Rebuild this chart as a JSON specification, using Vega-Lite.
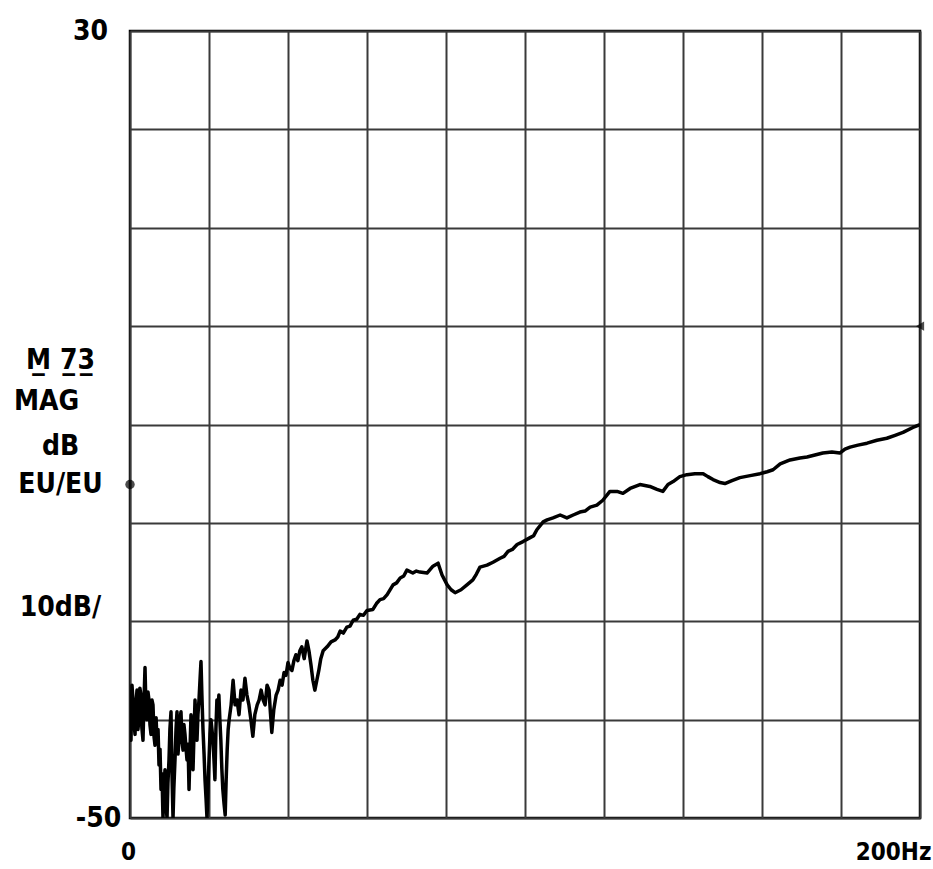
{
  "$schema": "https://vega.github.io/schema/vega-lite/v6.json",
  "width": 790,
  "height": 787,
  "autosize": "none",
  "padding": {"left": 130, "top": 31, "right": 13, "bottom": 51},
  "background": "white",
  "config": {
    "view": {"stroke": "black", "strokeWidth": 2.5},
    "font": "DejaVu Sans Condensed"
  },
  "datasets": {
    "trace": [
      {"f": 0, "m": -37.0}, {"f": 0.13, "m": -40.5}, {"f": 0.25, "m": -42.1}, {"f": 0.5, "m": -36.5},
      {"f": 0.76, "m": -38.0}, {"f": 1.0, "m": -40.2}, {"f": 1.27, "m": -41.5}, {"f": 1.5, "m": -38.5},
      {"f": 1.77, "m": -37.0}, {"f": 2.0, "m": -41.0}, {"f": 2.28, "m": -40.0}, {"f": 2.5, "m": -36.8},
      {"f": 2.78, "m": -37.5}, {"f": 3.0, "m": -40.8}, {"f": 3.29, "m": -42.1}, {"f": 3.55, "m": -38.0},
      {"f": 3.8, "m": -34.7}, {"f": 4.05, "m": -39.0}, {"f": 4.3, "m": -40.0}, {"f": 4.55, "m": -37.2},
      {"f": 4.81, "m": -38.0}, {"f": 5.05, "m": -40.5}, {"f": 5.32, "m": -41.5}, {"f": 5.55, "m": -38.0},
      {"f": 5.82, "m": -38.5}, {"f": 6.1, "m": -41.8}, {"f": 6.33, "m": -42.6}, {"f": 6.6, "m": -39.8},
      {"f": 6.84, "m": -42.1}, {"f": 7.1, "m": -41.0}, {"f": 7.34, "m": -44.6}, {"f": 7.6, "m": -43.0},
      {"f": 7.85, "m": -47.1}, {"f": 8.1, "m": -45.5}, {"f": 8.35, "m": -50}, {"f": 8.6, "m": -47.0},
      {"f": 8.86, "m": -45.1}, {"f": 9.1, "m": -48.5}, {"f": 9.37, "m": -50}, {"f": 9.6, "m": -46.5},
      {"f": 9.87, "m": -44.1}, {"f": 10.1, "m": -41.0}, {"f": 10.38, "m": -39.2}, {"f": 10.6, "m": -45.0},
      {"f": 10.89, "m": -50}, {"f": 11.1, "m": -47.0}, {"f": 11.39, "m": -44.1}, {"f": 11.65, "m": -41.0},
      {"f": 11.9, "m": -39.2}, {"f": 12.15, "m": -43.5}, {"f": 12.41, "m": -42.1}, {"f": 12.65, "m": -40.0},
      {"f": 12.91, "m": -39.2}, {"f": 13.15, "m": -42.0}, {"f": 13.42, "m": -43.1}, {"f": 13.65, "m": -40.5},
      {"f": 13.92, "m": -41.5}, {"f": 14.2, "m": -43.0}, {"f": 14.43, "m": -44.1}, {"f": 14.7, "m": -42.5},
      {"f": 14.94, "m": -47.1}, {"f": 15.2, "m": -43.0}, {"f": 15.44, "m": -39.5}, {"f": 15.7, "m": -42.0},
      {"f": 15.95, "m": -45.1}, {"f": 16.2, "m": -41.5}, {"f": 16.46, "m": -38.0}, {"f": 16.7, "m": -40.5},
      {"f": 16.96, "m": -42.1}, {"f": 17.2, "m": -39.5}, {"f": 17.47, "m": -38.0}, {"f": 17.72, "m": -36.0},
      {"f": 17.97, "m": -34.1}, {"f": 18.2, "m": -37.5}, {"f": 18.48, "m": -41.0}, {"f": 18.75, "m": -43.5},
      {"f": 18.99, "m": -46.1}, {"f": 19.25, "m": -48.0}, {"f": 19.49, "m": -50}, {"f": 19.75, "m": -47.0},
      {"f": 20.0, "m": -44.1}, {"f": 20.25, "m": -41.5}, {"f": 20.5, "m": -40.0}, {"f": 20.75, "m": -41.0},
      {"f": 21.0, "m": -42.1}, {"f": 21.25, "m": -44.0}, {"f": 21.5, "m": -46.1}, {"f": 21.75, "m": -41.0},
      {"f": 22.0, "m": -38.0}, {"f": 22.25, "m": -39.5}, {"f": 22.5, "m": -37.5}, {"f": 22.75, "m": -40.0},
      {"f": 23.0, "m": -42.1}, {"f": 23.25, "m": -45.0}, {"f": 23.5, "m": -47.1}, {"f": 23.8, "m": -48.5},
      {"f": 24.1, "m": -49.7}, {"f": 24.35, "m": -46.0}, {"f": 24.6, "m": -43.1}, {"f": 24.85, "m": -41.0},
      {"f": 25.1, "m": -40.0}, {"f": 25.6, "m": -38.5}, {"f": 26.1, "m": -36.0}, {"f": 26.6, "m": -38.5},
      {"f": 27.1, "m": -38.0}, {"f": 27.6, "m": -39.5}, {"f": 28.1, "m": -37.0}, {"f": 28.6, "m": -38.0},
      {"f": 29.1, "m": -35.8}, {"f": 29.6, "m": -37.5}, {"f": 30.1, "m": -38.5}, {"f": 30.6, "m": -40.0},
      {"f": 31.1, "m": -41.7}, {"f": 31.6, "m": -39.5}, {"f": 32.2, "m": -38.5}, {"f": 32.7, "m": -38.0},
      {"f": 33.2, "m": -37.0}, {"f": 33.7, "m": -38.0}, {"f": 34.2, "m": -38.5}, {"f": 34.7, "m": -36.5},
      {"f": 35.2, "m": -37.0}, {"f": 35.5, "m": -39.0}, {"f": 35.9, "m": -41.3}, {"f": 36.4, "m": -39.0},
      {"f": 37.0, "m": -37.5}, {"f": 37.5, "m": -37.0}, {"f": 38.0, "m": -36.0}, {"f": 38.5, "m": -36.5},
      {"f": 39.0, "m": -35.2}, {"f": 39.5, "m": -35.5}, {"f": 40.0, "m": -34.2}, {"f": 40.5, "m": -34.8},
      {"f": 41.0, "m": -35.0}, {"f": 41.5, "m": -34.0}, {"f": 42.0, "m": -33.4}, {"f": 42.5, "m": -34.0},
      {"f": 43.0, "m": -33.0}, {"f": 43.5, "m": -32.6}, {"f": 44.1, "m": -33.8}, {"f": 44.8, "m": -32.0},
      {"f": 45.3, "m": -33.0}, {"f": 45.8, "m": -34.4}, {"f": 46.3, "m": -36.0}, {"f": 46.8, "m": -37.0},
      {"f": 47.3, "m": -36.0}, {"f": 47.8, "m": -35.0}, {"f": 48.3, "m": -33.8}, {"f": 48.9, "m": -33.0},
      {"f": 49.9, "m": -32.6}, {"f": 50.9, "m": -32.1}, {"f": 51.9, "m": -31.9}, {"f": 52.6, "m": -31.6},
      {"f": 53.2, "m": -31.0}, {"f": 54.0, "m": -31.2}, {"f": 54.9, "m": -30.6}, {"f": 55.7, "m": -30.5},
      {"f": 56.5, "m": -29.9}, {"f": 57.4, "m": -29.8}, {"f": 58.2, "m": -29.3}, {"f": 59.1, "m": -29.4},
      {"f": 60.0, "m": -28.9}, {"f": 61.5, "m": -28.8}, {"f": 62.4, "m": -28.2}, {"f": 63.3, "m": -27.8},
      {"f": 64.2, "m": -27.7}, {"f": 65.1, "m": -27.3}, {"f": 66.6, "m": -26.3}, {"f": 67.5, "m": -26.1},
      {"f": 68.4, "m": -25.6}, {"f": 69.3, "m": -25.4}, {"f": 70.1, "m": -24.8}, {"f": 71.6, "m": -25.1},
      {"f": 72.5, "m": -24.9}, {"f": 73.4, "m": -25.0}, {"f": 75.2, "m": -25.1}, {"f": 76.7, "m": -24.4},
      {"f": 78.0, "m": -24.1}, {"f": 79.0, "m": -25.3}, {"f": 80.3, "m": -26.3}, {"f": 81.3, "m": -26.8},
      {"f": 82.3, "m": -27.1}, {"f": 83.8, "m": -26.8}, {"f": 85.3, "m": -26.3}, {"f": 86.8, "m": -25.8},
      {"f": 87.7, "m": -25.2}, {"f": 88.6, "m": -24.5}, {"f": 90.4, "m": -24.3}, {"f": 91.9, "m": -24.0},
      {"f": 93.7, "m": -23.6}, {"f": 94.7, "m": -23.4}, {"f": 95.7, "m": -22.9}, {"f": 96.8, "m": -22.7},
      {"f": 98.0, "m": -22.2}, {"f": 99.5, "m": -21.9}, {"f": 101.3, "m": -21.5}, {"f": 102.2, "m": -21.3},
      {"f": 103.0, "m": -20.7}, {"f": 104.6, "m": -19.9}, {"f": 105.6, "m": -19.7}, {"f": 107.1, "m": -19.5},
      {"f": 108.9, "m": -19.2}, {"f": 110.6, "m": -19.5}, {"f": 112.2, "m": -19.2}, {"f": 113.9, "m": -18.9},
      {"f": 115.2, "m": -18.8}, {"f": 116.5, "m": -18.4}, {"f": 118.2, "m": -18.2}, {"f": 119.7, "m": -17.7},
      {"f": 121.5, "m": -16.8}, {"f": 123.3, "m": -16.8}, {"f": 124.8, "m": -17.0}, {"f": 126.6, "m": -16.5},
      {"f": 129.1, "m": -16.1}, {"f": 131.6, "m": -16.3}, {"f": 133.4, "m": -16.6}, {"f": 134.9, "m": -16.8},
      {"f": 136.2, "m": -16.1}, {"f": 137.5, "m": -15.8}, {"f": 139.2, "m": -15.3}, {"f": 141.0, "m": -15.1},
      {"f": 143.0, "m": -15.0}, {"f": 145.1, "m": -15.0}, {"f": 146.3, "m": -15.3}, {"f": 147.6, "m": -15.6},
      {"f": 149.4, "m": -15.9}, {"f": 150.6, "m": -16.0}, {"f": 152.4, "m": -15.7}, {"f": 154.4, "m": -15.4},
      {"f": 157.0, "m": -15.2}, {"f": 159.5, "m": -15.0}, {"f": 161.3, "m": -14.8}, {"f": 162.8, "m": -14.6},
      {"f": 164.6, "m": -14.0}, {"f": 167.1, "m": -13.6}, {"f": 169.6, "m": -13.4}, {"f": 171.4, "m": -13.3},
      {"f": 173.4, "m": -13.1}, {"f": 175.4, "m": -12.9}, {"f": 177.7, "m": -12.8}, {"f": 179.7, "m": -12.9},
      {"f": 181.0, "m": -12.5}, {"f": 182.3, "m": -12.3}, {"f": 184.3, "m": -12.1}, {"f": 186.6, "m": -11.9},
      {"f": 189.1, "m": -11.6}, {"f": 191.6, "m": -11.4}, {"f": 193.7, "m": -11.1}, {"f": 195.7, "m": -10.8},
      {"f": 198.2, "m": -10.3}, {"f": 200.0, "m": -10.0}
    ],
    "markers": [
      {"f": 0, "m": -16.1, "kind": "level"},
      {"f": 200, "m": 0, "kind": "ref"}
    ]
  },
  "layer": [
    {
      "data": {"name": "trace"},
      "mark": {"type": "line", "color": "black", "strokeWidth": 3.5, "clip": true, "strokeJoin": "round"},
      "encoding": {
        "x": {
          "field": "f", "type": "quantitative",
          "scale": {"domain": [0, 200], "nice": false, "zero": false},
          "axis": {
            "title": null,
            "values": [0, 20, 40, 60, 80, 100, 120, 140, 160, 180, 200],
            "labelExpr": "datum.value == 0 ? '0' : (datum.value == 200 ? '200Hz' : '')",
            "grid": true, "gridColor": "#3a3a3a", "gridWidth": 2,
            "domain": false, "ticks": false, "tickSize": 0,
            "labelFontSize": 24, "labelFontWeight": "bold", "labelColor": "black",
            "labelPadding": 22, "labelOverlap": false, "labelBound": false, "labelFlush": false,
            "labelAlign": {"condition": {"test": "datum.value == 200", "value": "right"}, "value": "center"},
            "labelOffset": {"condition": {"test": "datum.value == 200", "value": 11}, "value": -2}
          }
        },
        "y": {
          "field": "m", "type": "quantitative",
          "scale": {"domain": [-50, 30], "nice": false, "zero": false},
          "axis": {
            "title": null,
            "values": [30, 20, 10, 0, -3.5, -7.7, -10, -12.2, -16.1, -20, -28.6, -30, -40, -50],
            "labelExpr": "datum.value == 30 ? '30' : datum.value == -50 ? '-50' : datum.value == -3.5 ? 'M\u0332 7\u03323\u0332' : datum.value == -7.7 ? 'MAG' : datum.value == -12.2 ? 'dB' : datum.value == -16.1 ? 'EU/EU' : datum.value == -28.6 ? '10dB/' : ''",
            "grid": true, "gridColor": "#3a3a3a", "gridWidth": 2,
            "gridOpacity": {"condition": {"test": "datum.value % 10 == 0", "value": 1}, "value": 0},
            "domain": false, "ticks": false, "tickSize": 0,
            "labelFontSize": 28, "labelFontWeight": "bold", "labelColor": "black",
            "labelAlign": "center", "labelBaseline": "middle",
            "labelOverlap": false, "labelBound": false, "labelFlush": false,
            "labelPadding": {"condition": [
              {"test": "datum.value == 30", "value": 40},
              {"test": "datum.value == -50", "value": 32},
              {"test": "datum.value == -7.7", "value": 84}
            ], "value": 70}
          }
        }
      }
    },
    {
      "data": {"name": "markers"},
      "mark": {"type": "point", "filled": true, "color": "black", "size": 90, "clip": false},
      "encoding": {
        "x": {"field": "f", "type": "quantitative"},
        "y": {"field": "m", "type": "quantitative"},
        "shape": {"field": "kind", "type": "nominal", "scale": {"domain": ["level", "ref"], "range": ["circle", "triangle-left"]}, "legend": null}
      }
    }
  ]
}
